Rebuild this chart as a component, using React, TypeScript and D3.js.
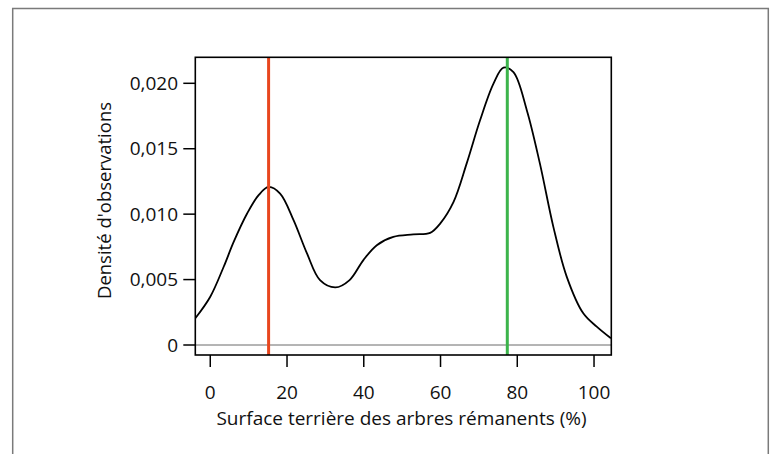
import React from "react";
import * as d3 from "d3";

const densityX = [-3.9, 0, 3.5, 6.1, 9.6, 12.6, 15.2, 18.2, 21.7, 25.2, 28.6, 32.6, 36.3, 39.9, 43.4, 47.7, 52.9, 57.3, 59.9, 63.4, 66.8, 70.3, 73.8, 76.4, 79, 82.5, 85.9, 89.4, 92.9, 97.2, 100.7, 104.4];
const densityY = [0.00204, 0.00369, 0.00598, 0.00788, 0.01005, 0.01145, 0.01208, 0.01157, 0.00954, 0.0070, 0.00496, 0.0044, 0.00496, 0.00649, 0.00763, 0.00826, 0.00845, 0.00857, 0.00928, 0.01094, 0.01386, 0.01717, 0.01997, 0.02119, 0.02085, 0.01793, 0.01386, 0.00903, 0.00521, 0.00242, 0.0014, 0.00051];
const xTicks = [0, 20, 40, 60, 80, 100];
const yTicks = [0, 0.005, 0.01, 0.015, 0.02];
const redLine = 15.2;
const greenLine = 77.4;
const xDomain = [-3.9, 104.5];
const yDomain = [-0.000764, 0.021987];
const xTitle = "Surface terrière des arbres rémanents (%)";
const yTitle = "Densité d'observations";

const W = 771, H = 454;
const plot = { left: 195.3, top: 57.3, right: 611.3, bottom: 355 };
const font = "'Open Sans', 'Noto Sans', sans-serif";

const fmtY = (v: number) => (v === 0 ? "0" : v.toFixed(3).replace(".", ","));

export default function App() {
  const x = d3.scaleLinear().domain(xDomain).range([plot.left, plot.right]);
  const y = d3.scaleLinear().domain(yDomain).range([plot.bottom, plot.top]);
  const pts: [number, number][] = densityX.map((d, i) => [d, densityY[i]]);
  const line = d3
    .line<[number, number]>()
    .x((d) => x(d[0]))
    .y((d) => y(d[1]))
    .curve(d3.curveCatmullRom.alpha(0.5));
  return (
    <svg width={W} height={H} style={{ position: "absolute", left: 0, top: 0, background: "#fff" }}>
      <path d={`M12.7,${H + 2}V8.5H768.3V${H + 2}`} fill="none" stroke="#7a7a7a" strokeWidth={1.5} />
      <defs>
        <clipPath id="pc">
          <rect x={plot.left} y={plot.top} width={plot.right - plot.left} height={plot.bottom - plot.top} />
        </clipPath>
      </defs>
      <line x1={plot.left} x2={plot.right} y1={y(0)} y2={y(0)} stroke="#444" strokeWidth={0.8} />
      <path d={line(pts) || ""} fill="none" stroke="#000" strokeWidth={1.8} clipPath="url(#pc)" />
      <line x1={x(redLine)} x2={x(redLine)} y1={plot.top} y2={plot.bottom} stroke="#e8461e" strokeWidth={3} />
      <line x1={x(greenLine)} x2={x(greenLine)} y1={plot.top} y2={plot.bottom} stroke="#3cb44b" strokeWidth={3} />
      <rect x={plot.left} y={plot.top} width={plot.right - plot.left} height={plot.bottom - plot.top} fill="none" stroke="#000" strokeWidth={1.6} />
      {yTicks.map((t) => (
        <g key={"y" + t}>
          <line x1={plot.left - 12} x2={plot.left} y1={y(t)} y2={y(t)} stroke="#000" strokeWidth={1.5} />
          <text x={178} y={y(t)} dy="0.35em" textAnchor="end" fontFamily={font} fontSize={19} fill="#111">
            {fmtY(t)}
          </text>
        </g>
      ))}
      {xTicks.map((t) => (
        <g key={"x" + t}>
          <line x1={x(t)} x2={x(t)} y1={plot.bottom} y2={plot.bottom + 12} stroke="#000" strokeWidth={1.5} />
          <text x={x(t)} y={398.5} textAnchor="middle" fontFamily={font} fontSize={19} fill="#111">
            {t}
          </text>
        </g>
      ))}
      <text x={401.5} y={424.5} textAnchor="middle" fontFamily={font} fontSize={19} fill="#111">
        {xTitle}
      </text>
      <text transform="translate(111,200.5) rotate(-90)" textAnchor="middle" fontFamily={font} fontSize={18.5} fill="#111">
        {yTitle}
      </text>
    </svg>
  );
}
